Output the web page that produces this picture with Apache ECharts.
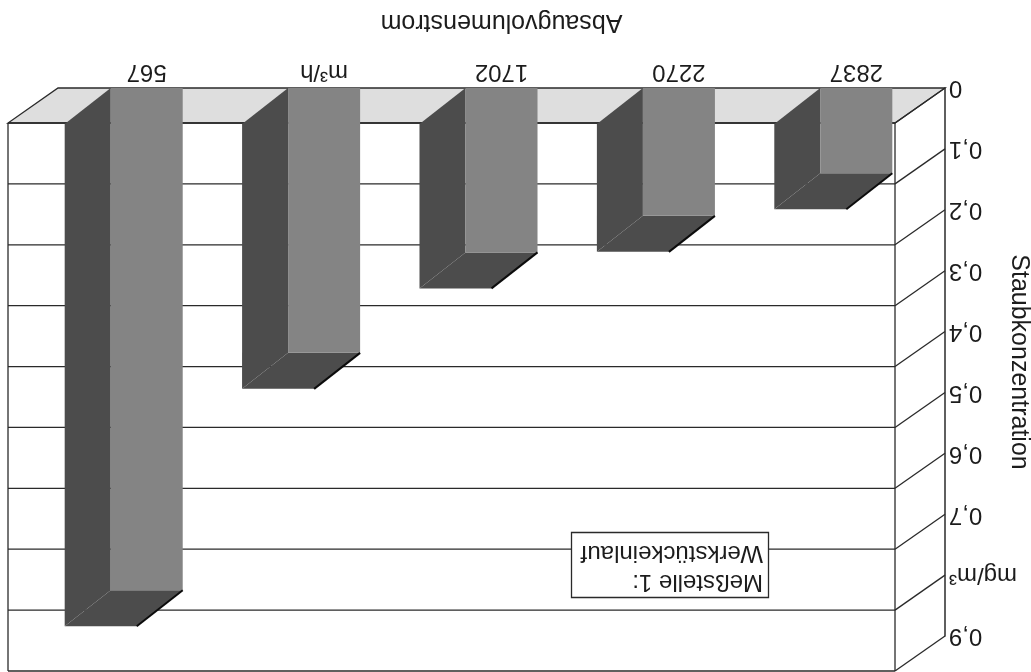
<!DOCTYPE html>
<html>
<head>
<meta charset="utf-8">
<script src="https://cdn.jsdelivr.net/npm/echarts@6/dist/echarts.min.js"></script>
<style>
  html, body { margin: 0; padding: 0; background: #fff; }
  /* the sheet is printed turned upside down */
  #chart { width: 1031px; height: 672px; transform: rotate(180deg); }
</style>
</head>
<body>
<div id="chart"></div>
<script>
// Absaugvolumenstrom (m³/h) categories and measured dust concentration (mg/m³)
const categories = ['2837', '2270', '1702', 'm³/h', '567'];
const concentration = [0.14, 0.21, 0.27, 0.435, 0.825];
const yTickLabels = ['0', '0,1', '0,2', '0,3', '0,4', '0,5', '0,6', '0,7', 'mg/m³', '0,9'];
const Y_MIN = 0, Y_MAX = 0.9, Y_STEP = 0.1;

const FONT = 'Liberation Sans, Arial, Helvetica, sans-serif';
const TEXT = '#1c1c1c';
const LINE = '#2a2a2a';
const FLOOR = '#dedede';
const FRONT = '#848484';
const SIDE = '#4c4c4c';
const WALL_DX = 50, WALL_DY = -35;   // depth of walls / floor
const BAR_DX = 46, BAR_DY = -36;     // depth of the columns
const BAR_RATIO = 0.406;

function renderFrame(params, api) {
  const cs = params.coordSys;
  const left = cs.x, right = cs.x + cs.width;
  const y0 = api.coord([0, Y_MIN])[1];
  const yTop = api.coord([0, Y_MAX])[1];
  const children = [];
  children.push({
    type: 'polygon',
    shape: { points: [[left, y0], [right, y0], [right + WALL_DX, y0 + WALL_DY], [left + WALL_DX, y0 + WALL_DY]] },
    style: { fill: FLOOR, stroke: LINE, lineWidth: 1.3 }
  });
  for (let i = 0; i < yTickLabels.length; i++) {
    const y = api.coord([0, Y_MIN + i * Y_STEP])[1];
    children.push({
      type: 'line',
      shape: { x1: left + WALL_DX, y1: y + WALL_DY, x2: right + WALL_DX, y2: y + WALL_DY },
      style: { stroke: LINE, lineWidth: 1.3 }
    });
    children.push({
      type: 'line',
      shape: { x1: left, y1: y, x2: left + WALL_DX, y2: y + WALL_DY },
      style: { stroke: LINE, lineWidth: 1.3 }
    });
  }
  [left + WALL_DX, right + WALL_DX].forEach(function (x) {
    children.push({
      type: 'line',
      shape: { x1: x, y1: y0 + WALL_DY, x2: x, y2: yTop + WALL_DY },
      style: { stroke: LINE, lineWidth: 1.3 }
    });
  });
  return { type: 'group', children: children };
}

function renderColumn(params, api) {
  const cat = api.value(0), v = api.value(1);
  const top = api.coord([cat, v]);
  const base = api.coord([cat, Y_MIN]);
  const bw = api.size([1, 0])[0] * BAR_RATIO;
  const x0 = top[0] - bw / 2, x1 = top[0] + bw / 2;
  const yT = top[1], yB = base[1];
  return {
    type: 'group',
    children: [
      { type: 'polygon',
        shape: { points: [[x1, yB], [x1, yT], [x1 + BAR_DX, yT + BAR_DY], [x1 + BAR_DX, yB + BAR_DY]] },
        style: { fill: SIDE } },
      { type: 'polygon',
        shape: { points: [[x0, yT], [x1, yT], [x1 + BAR_DX, yT + BAR_DY], [x0 + BAR_DX, yT + BAR_DY]] },
        style: { fill: SIDE } },
      { type: 'rect', shape: { x: x0, y: yT, width: bw, height: yB - yT }, style: { fill: FRONT } },
      { type: 'line', shape: { x1: x0, y1: yT, x2: x0 + BAR_DX, y2: yT + BAR_DY },
        style: { stroke: '#0c0c0c', lineWidth: 2 } }
    ]
  };
}

const chart = echarts.init(document.getElementById('chart'), null, { renderer: 'canvas' });
chart.setOption({
  backgroundColor: '#ffffff',
  animation: false,
  title: {
    text: 'Meßstelle 1:\nWerkstückeinlauf',
    left: 262, top: 74,
    padding: [2, 9, 6, 6],
    borderColor: LINE, borderWidth: 1.3,
    backgroundColor: '#ffffff',
    textStyle: { fontFamily: FONT, fontSize: 24, fontWeight: 'normal', lineHeight: 29, color: TEXT }
  },
  grid: { left: 86, top: 36, width: 887, height: 548, outerBoundsMode: 'none' },
  xAxis: {
    type: 'category',
    data: categories,
    name: 'Absaugvolumenstrom',
    nameLocation: 'middle',
    nameGap: 54,
    nameMoveOverlap: false,
    nameTextStyle: { fontFamily: FONT, fontSize: 25, fontWeight: 'normal', color: TEXT },
    axisLine: { show: false },
    axisTick: { show: false },
    axisLabel: { fontFamily: FONT, fontSize: 24, fontWeight: 'normal', color: TEXT, margin: 4 }
  },
  yAxis: {
    type: 'value',
    min: Y_MIN, max: Y_MAX, interval: Y_STEP,
    name: 'Staubkonzentration',
    nameLocation: 'middle',
    nameGap: 61,
    nameRotate: 90,
    nameMoveOverlap: false,
    nameTextStyle: { fontFamily: FONT, fontSize: 25, fontWeight: 'normal', color: TEXT },
    axisLine: { show: true, lineStyle: { color: LINE, width: 1.5 } },
    axisTick: { show: false },
    splitLine: { show: false },
    axisLabel: {
      fontFamily: FONT, fontSize: 24, fontWeight: 'normal', color: TEXT, margin: 4,
      formatter: function (value, index) { return yTickLabels[index]; }
    }
  },
  series: [
    {
      type: 'custom', name: 'frame', silent: true, clip: false, z: 1,
      data: [[0, Y_MIN]],
      renderItem: renderFrame
    },
    {
      type: 'custom', name: 'Meßstelle 1: Werkstückeinlauf', clip: false, z: 2,
      data: categories.map(function (c, i) { return [i, concentration[i]]; }),
      renderItem: renderColumn
    }
  ]
});
</script>
</body>
</html>
